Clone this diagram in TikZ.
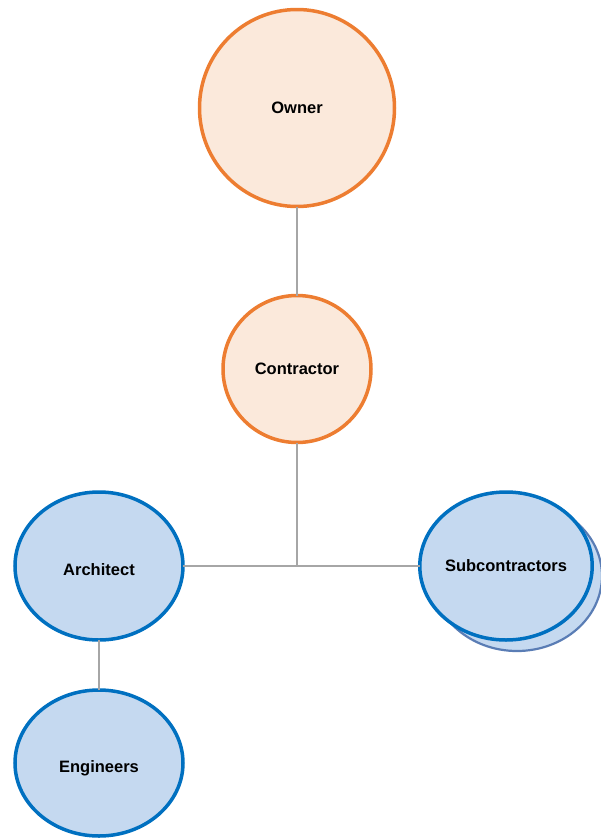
\documentclass[tikz,border=0pt]{standalone}
\usepackage{fontspec}
\setmainfont{Liberation Sans}
\usetikzlibrary{shapes.geometric}
\definecolor{orgline}{HTML}{ED7D31}
\definecolor{orgfill}{HTML}{FBE9DB}
\definecolor{blueline}{HTML}{0070C0}
\definecolor{bluefill}{HTML}{C5D9F0}
\definecolor{backline}{HTML}{5A7DB5}
\definecolor{linkgray}{HTML}{A6A6A6}
% label lowered a little below the centre of its ellipse
\newcommand{\lowlabel}[1]{\raisebox{-9pt}[0pt][0pt]{#1}}
\tikzset{
  role/.style={ellipse, line width=3.5pt, inner sep=0pt, outer sep=0pt,
    font=\fontsize{16.5}{19}\selectfont\bfseries},
  orgrole/.style={role, draw=orgline, fill=orgfill},
  bluerole/.style={role, draw=blueline, fill=bluefill,
    minimum width=168pt, minimum height=148pt},
  stackrole/.style={ellipse, draw=backline, fill=bluefill, line width=2.2pt,
    minimum width=170pt, minimum height=150pt},
  link/.style={draw=linkgray, line width=1.5pt}
}
\begin{document}
\begin{tikzpicture}[x=1pt,y=-1pt]
  \useasboundingbox (0,0) rectangle (600,838);
  % management chain
  \node[orgrole, minimum width=195pt, minimum height=197pt] (owner) at (297,108) {Owner};
  \node[orgrole, minimum width=148pt, minimum height=147pt] (contractor) at (297,369) {Contractor};
  % design and construction teams
  \node[bluerole] (architect) at (99,566) {\lowlabel{Architect}};
  \node[bluerole, minimum height=146pt] (engineers) at (99,763) {\lowlabel{Engineers}};
  \node[stackrole] (subback) at (517,576) {};
  \node[bluerole] (subs) at (506,566) {Subcontractors};
  % connectors
  \coordinate (hub) at (297,566);
  \draw[link] (owner.south) -- (contractor.north);
  \draw[link] (contractor.south) -- (hub);
  \draw[link] (architect.east) -- (hub) -- (subs.west);
  \draw[link] (architect.south) -- (engineers.north);
\end{tikzpicture}
\end{document}
